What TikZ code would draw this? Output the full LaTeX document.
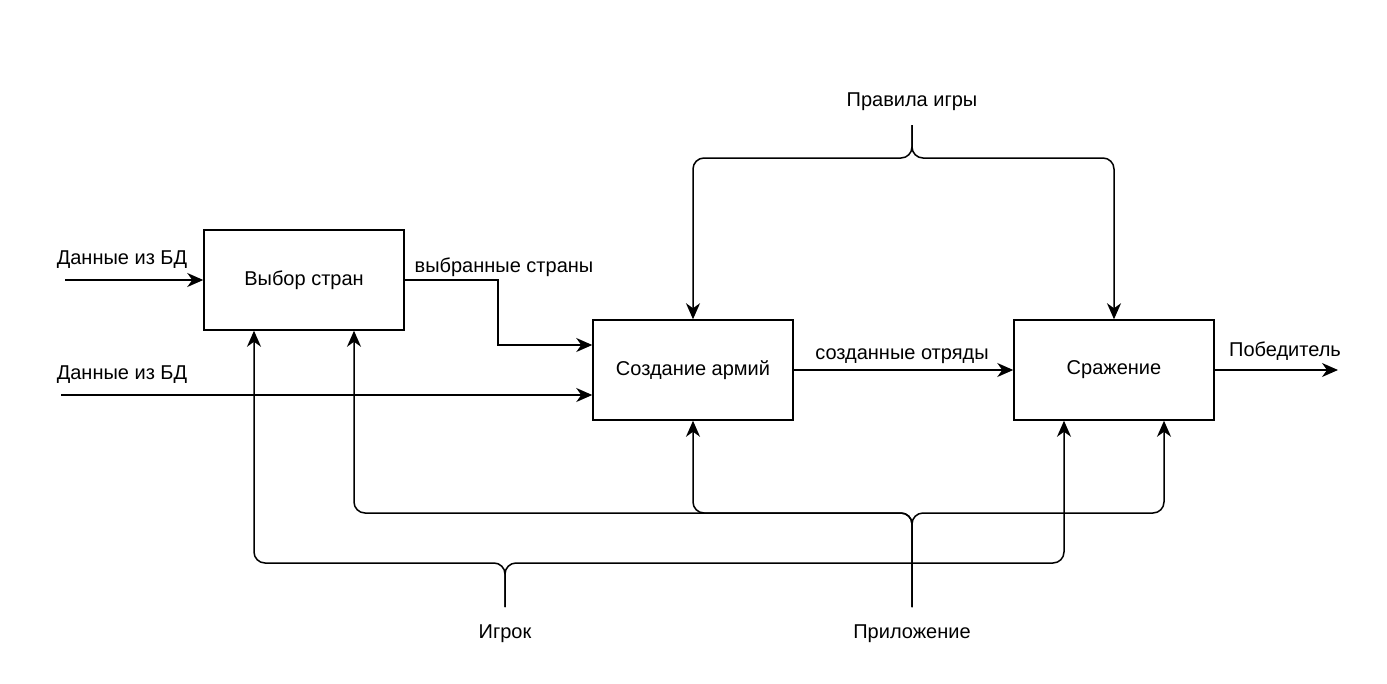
\documentclass[tikz,border=0pt]{standalone}
\usepackage{fontspec}
\setmainfont{Liberation Sans}
\usetikzlibrary{arrows.meta}
\begin{document}
\begin{tikzpicture}[x=1pt,y=-1pt,
  font=\fontsize{20}{23}\selectfont,
  func/.style={draw, line width=1.5pt, minimum width=200pt, minimum height=100pt, inner sep=0pt},
  flow/.style={line width=1.5pt, -{Stealth[length=16pt,width=14pt,inset=5pt]}},
  bus/.style={flow, rounded corners=11pt},
  lbl/.style={inner sep=0pt}]
\useasboundingbox (0,0) rectangle (1387,683);
\node[func] (choice) at (304,280) {Выбор стран};
\node[func] (army) at (693,370) {Создание армий};
\node[func] (battle) at (1114,370) {Сражение};
% inputs and outputs
\node[lbl] at (122,260) {Данные из БД};
\node[lbl] at (122,375) {Данные из БД};
\coordinate (db1) at (65,280);
\coordinate (db2) at (61,395);
\draw[flow] (db1) -- (choice.west);
\draw[flow] (db2) -- (army.west |- db2);
\node[lbl] at (504,267) {выбранные страны};
\draw[flow] (choice.east) -- (498,280) |- ([yshift=25pt]army.west);
\node[lbl] at (902,356) {созданные отряды};
\draw[flow] (army.east) -- (battle.west);
\node[lbl] (win) at (1285,351) {Победитель};
\coordinate (out) at (1338,370);
\draw[flow] (battle.east) -- (out);
% controls
\node[lbl] (rules) at (912,102) {Правила игры};
\coordinate (r0) at (912,125);
\draw[bus] (r0) -- (912,158) -| (army.north);
\draw[bus] (r0) -- (912,158) -| (battle.north);
% mechanisms
\node[lbl] (player) at (505,634) {Игрок};
\node[lbl] (app) at (912,634) {Приложение};
\coordinate (p0) at (505,607);
\coordinate (a0) at (912,607);
\draw[bus] (p0) -- (505,563) -| ([xshift=-50pt]choice.south);
\draw[bus] (p0) -- (505,563) -| ([xshift=-50pt]battle.south);
\draw[bus] (a0) -- (912,513) -| ([xshift=50pt]choice.south);
\draw[bus] (a0) -- (912,513) -| (army.south);
\draw[bus] (a0) -- (912,513) -| ([xshift=50pt]battle.south);
\end{tikzpicture}
\end{document}
